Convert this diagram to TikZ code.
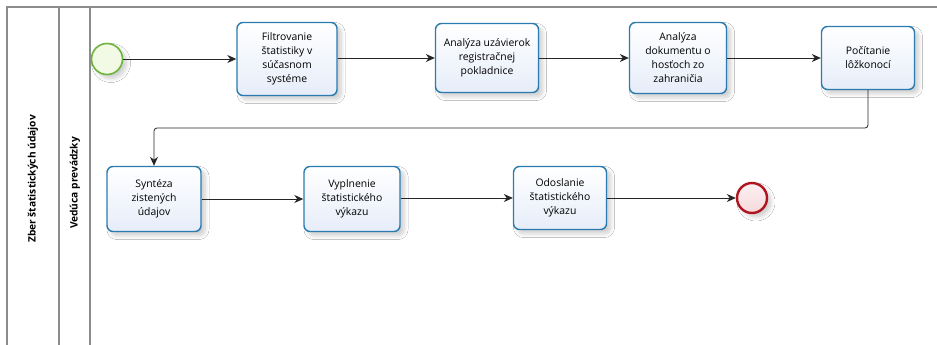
\documentclass[tikz,border=0pt]{standalone}
\usepackage{fontspec}
\setmainfont{Open Sans}
\usetikzlibrary{arrows.meta,shadows.blur,positioning}
\definecolor{taskline}{HTML}{2B7BB0}
\definecolor{taskfill}{HTML}{E6EDF9}
\definecolor{startline}{HTML}{6DB33F}
\definecolor{startfill}{HTML}{F2F9E4}
\definecolor{endline}{HTML}{B0141E}
\definecolor{endfill}{HTML}{F6D9DC}
\definecolor{poolline}{HTML}{8C8C8C}
\tikzset{
  x=1pt, y=-1pt,
  softshadow/.style={blur shadow={shadow xshift=4pt, shadow yshift=-4pt,
      shadow blur steps=8, shadow blur radius=4pt, shadow opacity=20}},
  task/.style={draw=taskline, line width=1.4pt, rounded corners=6pt,
      top color=white, bottom color=taskfill, softshadow,
      minimum width=#1, align=center, font=\fontsize{10.4}{14}\selectfont,
      inner sep=1pt},
  task/.default=96pt,
  startev/.style={circle, draw=startline, line width=1.6pt, fill=startfill,
      minimum size=31pt, inner sep=0pt, softshadow},
  endev/.style={circle, draw=endline, line width=2.4pt,
      top color=endfill!40, bottom color=endfill, minimum size=30pt,
      inner sep=0pt, softshadow},
  flow/.style={draw=black!85, line width=0.8pt,
      -{Stealth[length=9pt,width=8pt]}},
  lanelabel/.style={rotate=90, font=\fontsize{10.2}{12}\bfseries\selectfont},
  poolrule/.style={draw=poolline, line width=1.1pt}
}
\begin{document}
\begin{tikzpicture}
\useasboundingbox (0,0) rectangle (937,345);
\fill[white] (0,0) rectangle (937,345);

% pool and lane frame
\draw[poolrule] (7,345) -- (7,7) -- (937,7);
\draw[poolrule] (59,7) -- (59,345);
\draw[poolrule] (90,7) -- (90,345);
\node[lanelabel] (pool) at (33,179) {Zber štatistických údajov};
\node[lanelabel] (lane) at (75,183) {Vedúca prevádzky};

% events
\node[startev] (start) at (107,59) {};
\node[endev] (end) at (752,198) {};

% activities
\node[task=100pt, minimum height=73pt] (t1) at (287,59)
  {Filtrovanie\\ štatistiky v\\ súčasnom\\ systéme};
\node[task=103pt, minimum height=69pt] (t2) at (487,58)
  {Analýza uzávierok\\ registračnej\\ pokladnice};
\node[task=97pt, minimum height=71pt] (t3) at (678,58)
  {Analýza\\ dokumentu o\\ hosťoch zo\\ zahraničia};
\node[task=93pt, minimum height=63pt] (t4) at (868,58)
  {Počítanie\\ lôžkonocí};
\node[task=94pt, minimum height=65pt] (t5) at (154,199)
  {Syntéza\\ zistených\\ údajov};
\node[task=96pt, minimum height=65pt] (t6) at (352,199)
  {Vyplnenie\\ štatistického\\ výkazu};
\node[task=93pt, minimum height=63pt] (t7) at (560,198)
  {Odoslanie\\ štatistického\\ výkazu};

% sequence flows
\coordinate (bend) at (868,128);
\draw[flow] (start) -- (t1);
\draw[flow] (t1.east |- t2) -- (t2);
\draw[flow] (t2) -- (t3);
\draw[flow] (t3) -- (t4);
\draw[flow, rounded corners=3pt] (t4.south) -- (bend) -- (t5.north |- bend) -- (t5.north);
\draw[flow] (t5) -- (t6);
\draw[flow] (t6.east |- t7) -- (t7);
\draw[flow] (t7) -- (end);
\end{tikzpicture}
\end{document}
